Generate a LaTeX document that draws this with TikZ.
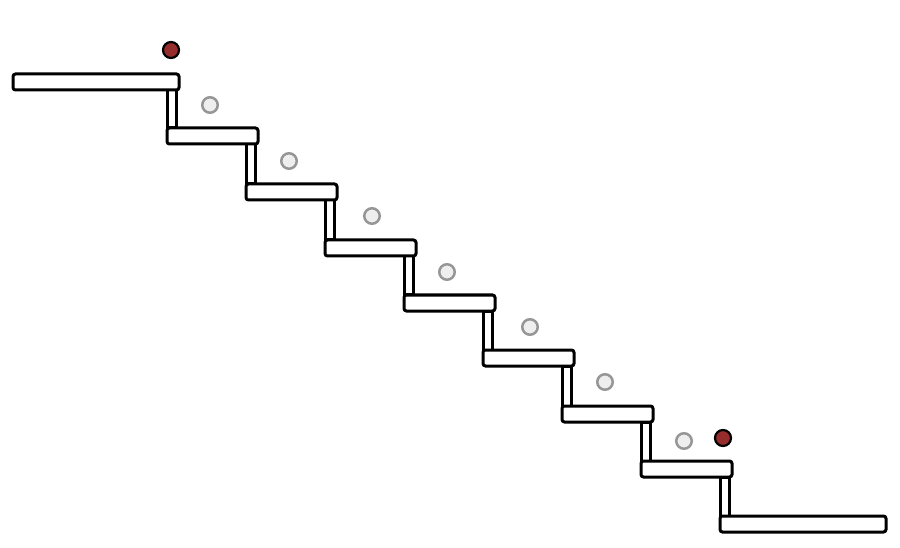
\documentclass[tikz,border=0pt]{standalone}
\usepackage{tikz}
\usepackage{xcolor}
\definecolor{ColA}{RGB}{150,44,44}
\definecolor{ColB}{RGB}{150,150,150}
\definecolor{ColC}{RGB}{238,238,238}
\tikzstyle{Tread}=[draw=black,fill=white,line width=3pt,rounded corners=2.5pt]
\tikzstyle{Riser}=[draw=black,fill=white,line width=3pt]
\tikzstyle{BallEnd}=[circle,draw=black,fill=ColA,line width=2.2pt,inner sep=0pt,minimum size=16pt]
\tikzstyle{BallMid}=[circle,draw=ColB,fill=ColC,line width=2.5pt,inner sep=0pt,minimum size=15.5pt]

\begin{document}
\begin{tikzpicture}[x=1pt,y=-1pt]
        \useasboundingbox (0,0) rectangle (900,548);
        % risers
        \draw[Riser](167,90)rectangle(176,128);
        \draw[Riser](246,144)rectangle(255,184);
        \draw[Riser](325,200)rectangle(334,240);
        \draw[Riser](404,256)rectangle(413,295);
        \draw[Riser](483,311)rectangle(492,350);
        \draw[Riser](562,366)rectangle(571,406);
        \draw[Riser](641,422)rectangle(650,461);
        \draw[Riser](720,477)rectangle(729,516);
        % treads
        \draw[Tread](13,74)rectangle(179,90);
        \draw[Tread](167,128)rectangle(258,144);
        \draw[Tread](246,184)rectangle(337,200);
        \draw[Tread](325,240)rectangle(416,256);
        \draw[Tread](404,295)rectangle(495,311);
        \draw[Tread](483,350)rectangle(574,366);
        \draw[Tread](562,406)rectangle(653,422);
        \draw[Tread](641,461)rectangle(732,477);
        \draw[Tread](720,516)rectangle(886,532);
        % balls
        \node[BallEnd](start)at(171,50){};
        \node[BallMid](p1)at(210,105){};
        \node[BallMid](p2)at(289,161){};
        \node[BallMid](p3)at(372,216){};
        \node[BallMid](p4)at(447,272){};
        \node[BallMid](p5)at(530,327){};
        \node[BallMid](p6)at(605,382){};
        \node[BallMid](p7)at(684,441){};
        \node[BallEnd](stop)at(723,438){};
\end{tikzpicture}
\end{document}
